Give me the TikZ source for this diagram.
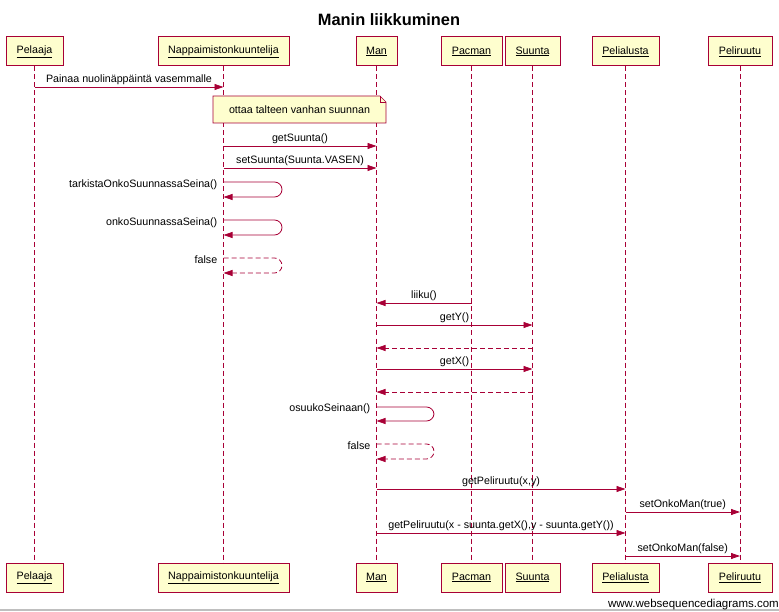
\documentclass[tikz,border=0pt]{standalone}
\usepackage{fontspec}
\setmainfont{Liberation Sans}
\usetikzlibrary{arrows.meta}
\definecolor{wsdred}{HTML}{A80036}
\definecolor{wsdfill}{HTML}{FEFECE}
\begin{document}
\begin{tikzpicture}[x=1pt,y=-1pt,
  actor/.style={draw=wsdred, fill=wsdfill, line width=1pt, minimum height=29pt, inner sep=0pt, font=\fontsize{10.7}{12}\selectfont},
  life/.style={draw=wsdred, line width=0.8pt, dash pattern=on 5pt off 3pt},
  msg/.style={draw=wsdred, line width=0.8pt, -{Triangle[length=9pt,width=6pt]}},
  ret/.style={msg, dash pattern=on 5pt off 3pt},
  lbl/.style={font=\fontsize{10.7}{12}\selectfont, inner sep=1.5pt, text=black},
  notebox/.style={draw=wsdred, fill=wsdfill, line width=0.6pt},
]
\useasboundingbox (0,0) rectangle (779,612);
% title
\node[anchor=base, font=\fontsize{16.4}{18}\selectfont\bfseries] (title) at (389,26) {Manin liikkuminen};

% actors top
\node[actor, minimum width=57pt]  (a1) at (34.5,51.5)  {\underline{Pelaaja}};
\node[actor, minimum width=131pt] (a2) at (223.5,51.5) {\underline{Nappaimistonkuuntelija}};
\node[actor, minimum width=41pt]  (a3) at (376.5,51.5) {\underline{Man}};
\node[actor, minimum width=61pt]  (a4) at (471.5,51.5) {\underline{Pacman}};
\node[actor, minimum width=55pt]  (a5) at (532.5,51.5) {\underline{Suunta}};
\node[actor, minimum width=67pt]  (a6) at (625.5,51.5) {\underline{Pelialusta}};
\node[actor, minimum width=64pt]  (a7) at (740,51.5)   {\underline{Peliruutu}};
% actors bottom
\node[actor, minimum width=57pt]  (b1) at (34.5,577.5)  {\underline{Pelaaja}};
\node[actor, minimum width=131pt] (b2) at (223.5,577.5) {\underline{Nappaimistonkuuntelija}};
\node[actor, minimum width=41pt]  (b3) at (376.5,577.5) {\underline{Man}};
\node[actor, minimum width=61pt]  (b4) at (471.5,577.5) {\underline{Pacman}};
\node[actor, minimum width=55pt]  (b5) at (532.5,577.5) {\underline{Suunta}};
\node[actor, minimum width=67pt]  (b6) at (625.5,577.5) {\underline{Pelialusta}};
\node[actor, minimum width=64pt]  (b7) at (740,577.5)   {\underline{Peliruutu}};

% lifelines
\foreach \i in {1,...,7} {\draw[life] (a\i.south) -- (b\i.north);}

% messages
\draw[msg] (a1 |- 0,87) -- node[lbl, above] (l1) {Painaa nuolinäppäintä vasemmalle} (a2 |- 0,87);

% note
\draw[notebox] (213,96) -- (380,96) -- (386,102) -- (386,123) -- (213,123) -- cycle;
\draw[wsdred, line width=0.6pt] (380,96) -- (380,102) -- (386,102);
\node[lbl] (note) at (299.5,110) {ottaa talteen vanhan suunnan};

\draw[msg] (a2 |- 0,146) -- node[lbl, above] (l2) {getSuunta()} (a3 |- 0,146);
\draw[msg] (a2 |- 0,168) -- node[lbl, above] (l3) {setSuunta(Suunta.VASEN)} (a3 |- 0,168);

% self loops on Nappaimistonkuuntelija
\draw[msg, rounded corners=7.5pt] (a2 |- 0,182) -- (282,182) -- (282,197) -- (a2 |- 0,197);
\node[lbl, anchor=east] (l4) at (219,184.5) {tarkistaOnkoSuunnassaSeina()};
\draw[msg, rounded corners=7.5pt] (a2 |- 0,220) -- (282,220) -- (282,235) -- (a2 |- 0,235);
\node[lbl, anchor=east] (l5) at (219,222.5) {onkoSuunnassaSeina()};
\draw[ret, rounded corners=7.5pt] (a2 |- 0,258) -- (282,258) -- (282,273) -- (a2 |- 0,273);
\node[lbl, anchor=east] (l6) at (219,260) {false};

\draw[msg] (a4 |- 0,303) -- node[lbl, above] (l7) {liiku()} (a3 |- 0,303);
\draw[msg] (a3 |- 0,325) -- node[lbl, above] (l8) {getY()} (a5 |- 0,325);
\draw[ret] (a5 |- 0,348) -- (a3 |- 0,348);
\draw[msg] (a3 |- 0,369) -- node[lbl, above] (l9) {getX()} (a5 |- 0,369);
\draw[ret] (a5 |- 0,392) -- (a3 |- 0,392);

% self loops on Man
\draw[msg, rounded corners=7.5pt] (a3 |- 0,407) -- (434,407) -- (434,421) -- (a3 |- 0,421);
\node[lbl, anchor=east] (l10) at (372,409) {osuukoSeinaan()};
\draw[ret, rounded corners=7.5pt] (a3 |- 0,444) -- (434,444) -- (434,459) -- (a3 |- 0,459);
\node[lbl, anchor=east] (l11) at (372,446) {false};

\draw[msg] (a3 |- 0,489) -- node[lbl, above] (l12) {getPeliruutu(x,y)} (a6 |- 0,489);
\draw[msg] (a6 |- 0,512) -- node[lbl, above] (l13) {setOnkoMan(true)} (a7 |- 0,512);
\draw[msg] (a3 |- 0,533) -- node[lbl, above] (l14) {getPeliruutu(x - suunta.getX(),y - suunta.getY())} (a6 |- 0,533);
\draw[msg] (a6 |- 0,556) -- node[lbl, above] (l15) {setOnkoMan(false)} (a7 |- 0,556);

% footer
\draw[black!25, line width=1.5pt] (0,610) -- (779,610);
\node[anchor=base east, inner sep=0pt, font=\fontsize{11.5}{13}\selectfont] (wm) at (779,607) {www.websequencediagrams.com};
\end{tikzpicture}
\end{document}
